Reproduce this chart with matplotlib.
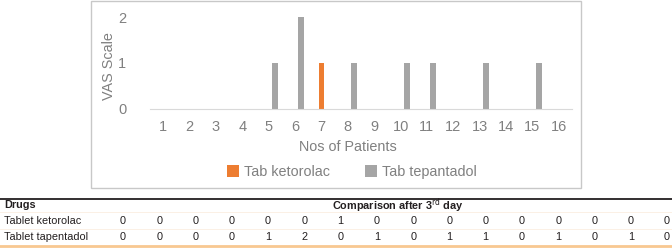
import matplotlib.pyplot as plt
from matplotlib.patches import Rectangle
from matplotlib.lines import Line2D
import numpy as np

# --- DATA ---
patients = list(range(1, 17))
ketorolac = [0, 0, 0, 0, 0, 0, 1, 0, 0, 0, 0, 0, 0, 0, 0, 0]
tepantadol = [0, 0, 0, 0, 1, 2, 0, 1, 0, 1, 1, 0, 1, 0, 1, 0]
series_names = ["Tab ketorolac", "Tab tepantadol"]
row_names = ["Tablet ketorolac", "Tablet tapentadol"]

ORANGE = "#ed7d31"
GREY = "#a5a5a5"
TXT = "#808080"

plt.rcParams["font.family"] = ["Liberation Sans", "DejaVu Sans"]

W, H = 672, 250
fig = plt.figure(figsize=(W / 100, H / 100), dpi=100)

def fx(px):
    return px / W

def fy(py):
    return 1 - py / H

# chart frame
fig.patches.append(Rectangle((fx(91), fy(188)), fx(581) - fx(91), fy(1) - fy(188),
                             transform=fig.transFigure, fill=False,
                             edgecolor="#c8c8c8", linewidth=1))

# --- bar chart ---
ax = fig.add_axes([fx(150), fy(109), fx(572) - fx(150), fy(17) - fy(109)])
x = np.arange(len(patients))
ax.bar(x, ketorolac, width=0.22, color=ORANGE, label=series_names[0])
ax.bar(x + 0.24, tepantadol, width=0.22, color=GREY, label=series_names[1])
ax.set_xlim(-0.5, len(patients) - 0.5)
ax.set_ylim(0, 2)
ax.set_xticks(x)
ax.set_xticklabels([str(p) for p in patients])
ax.set_yticks([0, 1, 2])
for s in ["top", "right", "left"]:
    ax.spines[s].set_visible(False)
ax.spines["bottom"].set_color("#d9d9d9")
ax.tick_params(length=0, colors=TXT, labelsize=10.5, pad=8)
ax.tick_params(axis="y", pad=17)
ax.patch.set_alpha(0)

fig.text(fx(348), fy(147), "Nos of Patients", ha="center", va="center",
         color=TXT, fontsize=10.4)
fig.text(fx(109), fy(66), "VAS Scale", ha="center", va="center",
         color=TXT, fontsize=10.4, rotation=90)

leg = fig.legend(loc="center", bbox_to_anchor=(fx(352), fy(172)), ncol=2,
                 frameon=False, fontsize=10.4, handlelength=0.8, handleheight=0.8,
                 columnspacing=2.4, handletextpad=0.4, borderpad=0)
for t in leg.get_texts():
    t.set_color(TXT)

# --- table below ---
TCOL = "#231f20"
fig.add_artist(Line2D([0, 1], [fy(199), fy(199)], transform=fig.transFigure,
                      color="#231f20", linewidth=1.3))
fig.add_artist(Line2D([0, 1], [fy(246), fy(246)], transform=fig.transFigure,
                      color="#f8c891", linewidth=2))
for yy in [212, 229]:
    fig.add_artist(Line2D([0, 1], [fy(yy), fy(yy)], transform=fig.transFigure,
                          color="#fbeee0", linewidth=0.6))

fig.text(fx(4), fy(205.5), "Drugs", ha="left", va="center", fontsize=7.8,
         fontweight="bold", color=TCOL)
fig.text(fx(398), fy(205.5), "Comparison after 3$^{\\rm rd}$ day", ha="center",
         va="center", fontsize=7.8, fontweight="bold", color=TCOL)

col_x = [123 + i * (667 - 123) / 15 for i in range(16)]
for r, (name, vals) in enumerate(zip(row_names, [ketorolac, tepantadol])):
    yy = fy(221 + r * 15.5)
    fig.text(fx(4), yy, name, ha="left", va="center", fontsize=7.8, color=TCOL)
    for cx, v in zip(col_x, vals):
        fig.text(fx(cx), yy, str(v), ha="center", va="center", fontsize=7.8,
                 color=TCOL)

fig.savefig("out.png", dpi=100)
